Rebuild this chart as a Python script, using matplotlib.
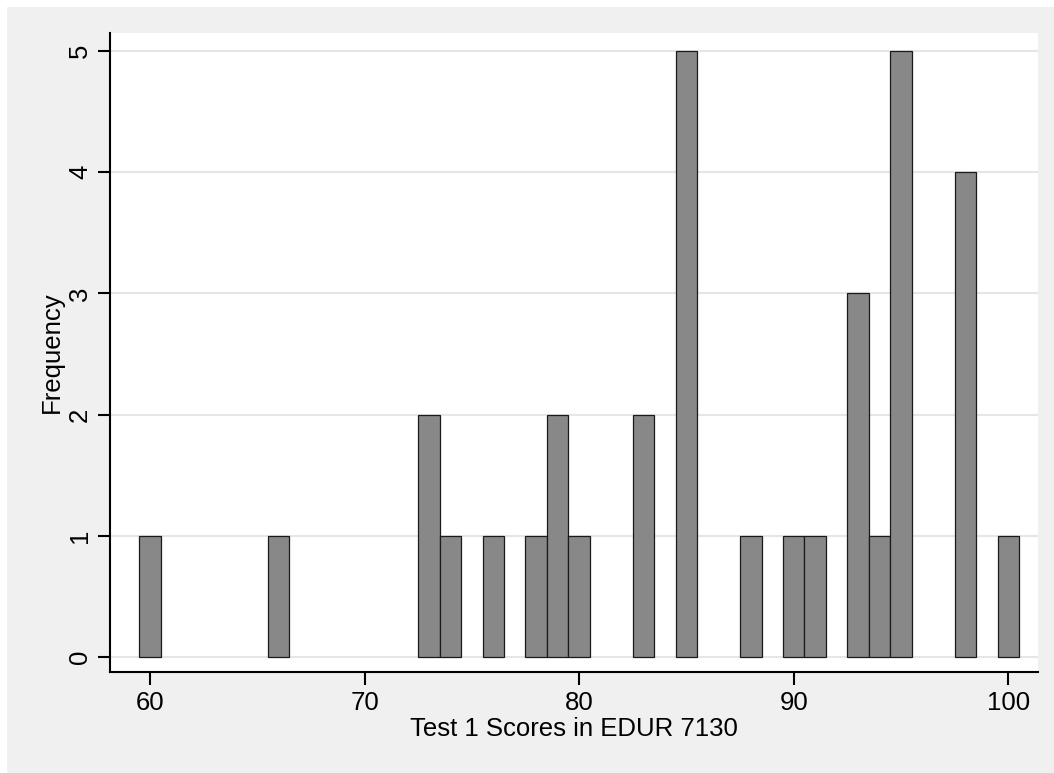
import matplotlib
matplotlib.use('Agg')
import matplotlib.pyplot as plt
from matplotlib.patches import Rectangle

# Test 1 scores (value) and how many students got each one
scores = [60, 66, 73, 74, 76, 78, 79, 80, 83, 85, 88, 90, 91, 93, 94, 95, 98, 100]
counts = [1, 1, 2, 1, 1, 1, 2, 1, 2, 5, 1, 1, 1, 3, 1, 5, 4, 1]
x_ticks = [60, 70, 80, 90, 100]
y_ticks = [0, 1, 2, 3, 4, 5]

plt.rcParams['font.family'] = ['Liberation Sans', 'DejaVu Sans']

W, H = 1054, 773
fig = plt.figure(figsize=(W / 100, H / 100), dpi=100, facecolor='white')
# outer grey graph region (stata style)
fig.patches.append(Rectangle((7 / W, 0), 1 - 7 / W, 1 - 7 / H,
                             transform=fig.transFigure, facecolor='#f0f0f0',
                             edgecolor='none', zorder=-10))

ax = fig.add_axes([110 / W, (H - 672) / H, 928 / W, 639 / H])
ax.set_facecolor('white')

ax.bar(scores, counts, width=1.0, color='#888888', edgecolor='#1a1a1a',
       linewidth=0.9, zorder=3)

ax.set_xlim(58.14, 101.38)
ax.set_ylim(-0.124, 5.149)
ax.set_xticks(x_ticks)
ax.set_yticks(y_ticks)

ax.yaxis.grid(True, color='#e6e6e6', linewidth=1.5)
ax.set_axisbelow(True)

for s in ['top', 'right']:
    ax.spines[s].set_visible(False)
for s in ['left', 'bottom']:
    ax.spines[s].set_linewidth(1.5)
    ax.spines[s].set_color('black')

ax.tick_params(axis='both', direction='out', length=9, width=1.5,
               labelsize=18.5, colors='black')
ax.tick_params(axis='x', pad=5)
ax.tick_params(axis='y', pad=4)
for lbl in ax.get_yticklabels():
    lbl.set_rotation(90)
    lbl.set_va('center')

ax.set_xlabel('Test 1 Scores in EDUR 7130', fontsize=18.5, labelpad=1)
ax.set_ylabel('Frequency', fontsize=18.5, labelpad=3)

fig.savefig('out.png', dpi=100, facecolor=fig.get_facecolor())
